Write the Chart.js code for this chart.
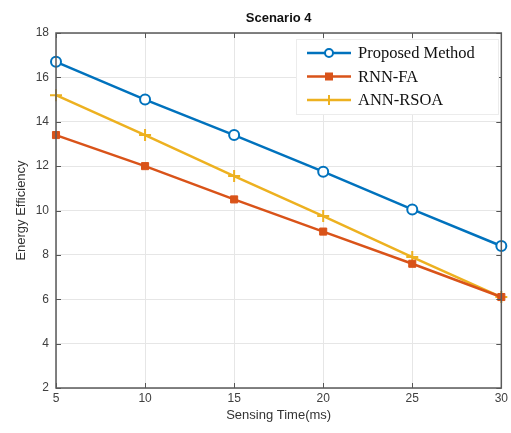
<!DOCTYPE html>
<html>
<head>
<meta charset="utf-8">
<script src="https://cdn.jsdelivr.net/npm/chart.js@4/dist/chart.umd.min.js"></script>
<style>
  html, body { margin: 0; padding: 0; background: #fff; }
  #wrap { width: 511px; height: 433px; position: relative; }
</style>
</head>
<body>
<div id="wrap"><canvas id="chart" width="511" height="433"></canvas></div>
<script>
// ── Dados ────────────────────────────────────────────────────────────────────
const sensingTime = [5, 10, 15, 20, 25, 30];
const proposed    = [16.7, 15.0, 13.4, 11.75, 10.05, 8.4];
const rnnFa       = [13.4, 12.0, 10.5, 9.05, 7.6, 6.1];
const annRsoa     = [15.2, 13.4, 11.55, 9.75, 7.9, 6.1];
const yTicks      = [2, 4, 6, 8, 10, 12, 14, 16, 18];
const xTicks      = [5, 10, 15, 20, 25, 30];

const seriesNames  = ["Proposed Method", "RNN-FA", "ANN-RSOA"];
const seriesColors = ["#0072BD", "#D95319", "#EDB120"];

const toPoints = ys => sensingTime.map((x, i) => ({ x, y: ys[i] }));

// ── Plugin: caixa do gráfico, ticks internos, título e legenda ──────────────
const matlabLook = {
  id: "matlabLook",
  afterDatasetsDraw(chart) {
    const { ctx, chartArea: a, scales } = chart;
    ctx.save();

    // ticks internos
    ctx.strokeStyle = "#555";
    ctx.lineWidth = 1;
    xTicks.forEach(v => {
      const px = Math.round(scales.x.getPixelForValue(v)) + 0.5;
      ctx.beginPath();
      ctx.moveTo(px, a.bottom); ctx.lineTo(px, a.bottom - 5);
      ctx.moveTo(px, a.top);    ctx.lineTo(px, a.top + 5);
      ctx.stroke();
    });
    yTicks.forEach(v => {
      const py = Math.round(scales.y.getPixelForValue(v)) + 0.5;
      ctx.beginPath();
      ctx.moveTo(a.left, py);  ctx.lineTo(a.left + 5, py);
      ctx.moveTo(a.right, py); ctx.lineTo(a.right - 5, py);
      ctx.stroke();
    });

    // caixa
    ctx.strokeStyle = "#5a5a5a";
    ctx.lineWidth = 1.5;
    ctx.strokeRect(a.left, a.top, a.right - a.left, a.bottom - a.top);

    // título
    ctx.fillStyle = "#111";
    ctx.font = "bold 13px Arial, 'Liberation Sans', sans-serif";
    ctx.textAlign = "center";
    ctx.textBaseline = "middle";
    ctx.fillText("Scenario 4", (a.left + a.right) / 2, 18);

    // legenda
    const lx = 296, ly = 39, lw = 202, lh = 75;
    ctx.fillStyle = "#fff";
    ctx.fillRect(lx, ly, lw, lh);
    ctx.strokeStyle = "#ececec";
    ctx.lineWidth = 1;
    ctx.strokeRect(lx + 0.5, ly + 0.5, lw, lh);

    ctx.font = "16.5px 'Liberation Serif', 'Times New Roman', serif";
    ctx.textAlign = "left";
    seriesNames.forEach((name, i) => {
      const y = 53 + i * 23.5;
      const c = seriesColors[i];
      ctx.strokeStyle = c;
      ctx.lineWidth = 2.5;
      ctx.beginPath();
      ctx.moveTo(307, y); ctx.lineTo(351, y);
      ctx.stroke();
      const mx = 329;
      ctx.lineWidth = 2;
      if (i === 0) {
        ctx.fillStyle = "#fff";
        ctx.beginPath(); ctx.arc(mx, y, 4, 0, Math.PI * 2); ctx.fill(); ctx.stroke();
      } else if (i === 1) {
        ctx.fillStyle = c;
        ctx.fillRect(mx - 4, y - 4, 8, 8);
      } else {
        ctx.beginPath();
        ctx.moveTo(mx, y - 5); ctx.lineTo(mx, y + 5);
        ctx.stroke();
      }
      ctx.fillStyle = "#111";
      ctx.fillText(name, 358, y + 1);
    });

    ctx.restore();
  },
};

// ── Gráfico ─────────────────────────────────────────────────────────────────
const canvas = document.getElementById("chart");

new Chart(canvas, {
  type: "line",
  data: {
    datasets: [
      {
        label: seriesNames[0],
        data: toPoints(proposed),
        borderColor: seriesColors[0],
        backgroundColor: "#fff",
        borderWidth: 2.5,
        pointStyle: "circle",
        pointRadius: 5,
        pointBorderWidth: 2,
        pointBorderColor: seriesColors[0],
        clip: false,
      },
      {
        label: seriesNames[1],
        data: toPoints(rnnFa),
        borderColor: seriesColors[1],
        backgroundColor: seriesColors[1],
        borderWidth: 2.5,
        pointStyle: "rect",
        pointRadius: 5,
        pointBorderWidth: 1,
        clip: false,
      },
      {
        label: seriesNames[2],
        data: toPoints(annRsoa),
        borderColor: seriesColors[2],
        backgroundColor: seriesColors[2],
        borderWidth: 2.5,
        pointStyle: "cross",
        pointRadius: 6,
        pointBorderWidth: 2,
        clip: false,
      },
    ],
  },
  options: {
    responsive: false,
    animation: false,
    layout: { padding: { top: 33, right: 8, left: 0, bottom: 0 } },
    plugins: {
      legend: { display: false },
      tooltip: { enabled: false },
      title: { display: false },
    },
    scales: {
      x: {
        type: "linear",
        min: 5,
        max: 30,
        afterBuildTicks: s => { s.ticks = xTicks.map(v => ({ value: v })); },
        afterFit: s => { s.height = 45; },
        border: { display: false },
        grid: { color: "#e6e6e6", drawTicks: false },
        ticks: {
          color: "#404040",
          font: { size: 12, family: "Arial, 'Liberation Sans', sans-serif" },
          padding: 3,
          maxRotation: 0,
        },
        title: {
          display: true,
          text: "Sensing Time(ms)",
          color: "#333",
          font: { size: 13, family: "Arial, 'Liberation Sans', sans-serif" },
          padding: { top: 10, bottom: 10 },
        },
      },
      y: {
        min: 2,
        max: 18,
        afterBuildTicks: s => { s.ticks = yTicks.map(v => ({ value: v })); },
        afterFit: s => { s.width = 56; },
        border: { display: false },
        grid: { color: "#e6e6e6", drawTicks: false },
        ticks: {
          color: "#404040",
          font: { size: 12, family: "Arial, 'Liberation Sans', sans-serif" },
          padding: 7,
        },
        title: {
          display: true,
          text: "Energy Efficiency",
          color: "#333",
          font: { size: 13, family: "Arial, 'Liberation Sans', sans-serif" },
          padding: { top: 14, bottom: 14 },
        },
      },
    },
  },
  plugins: [matlabLook],
});
</script>
</body>
</html>
